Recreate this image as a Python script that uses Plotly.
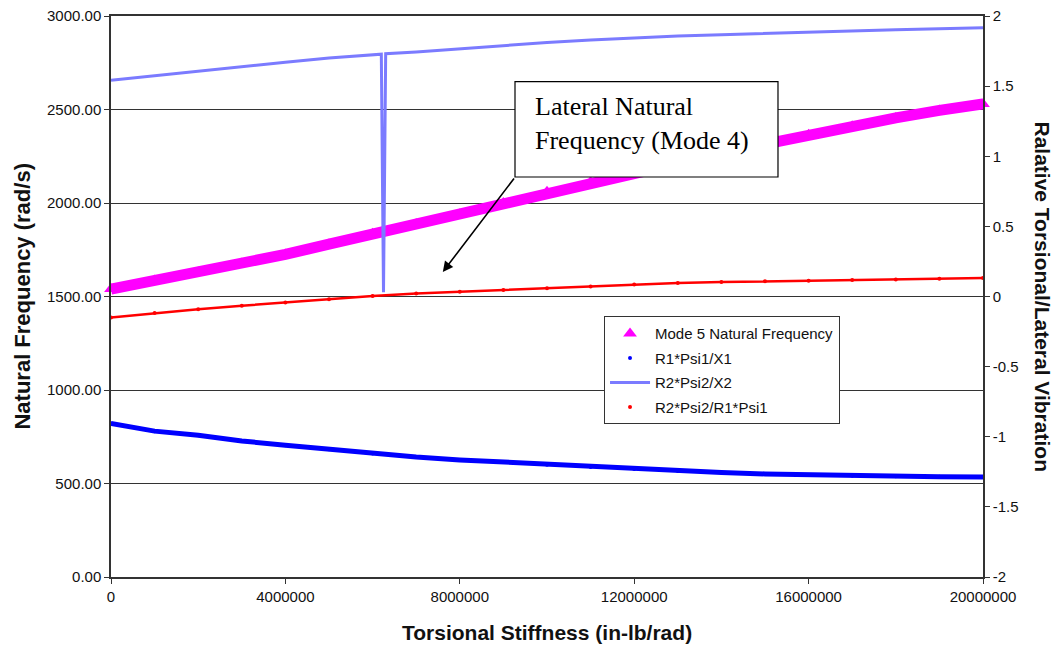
import plotly.graph_objects as go

# ---------------- data ----------------
stiffness = [0, 1000000, 2000000, 3000000, 4000000, 5000000, 6000000, 7000000,
             8000000, 9000000, 10000000, 11000000, 12000000, 13000000, 14000000,
             15000000, 16000000, 17000000, 18000000, 19000000, 20000000]

mode5_freq = [1540, 1585, 1630, 1677, 1725, 1780, 1835, 1888, 1940, 2000, 2060,
              2112, 2165, 2215, 2265, 2315, 2365, 2410, 2455, 2495, 2530]

r1psi1_x1 = [-0.905, -0.96, -0.99, -1.03, -1.06, -1.09, -1.12, -1.145, -1.165,
             -1.18, -1.20, -1.215, -1.23, -1.245, -1.255, -1.265, -1.272, -1.278,
             -1.282, -1.285, -1.287]

r2x2_stiffness = [0, 1000000, 2000000, 3000000, 4000000, 5000000, 6000000,
                  6200000, 6250000, 6300000, 7000000, 8000000, 9000000, 10000000,
                  11000000, 12000000, 13000000, 14000000, 15000000, 16000000,
                  17000000, 18000000, 19000000, 20000000]
r2psi2_x2 = [1.542, 1.575, 1.605, 1.637, 1.670, 1.700, 1.724, 1.728, 0.03, 1.731,
             1.744, 1.767, 1.790, 1.811, 1.828, 1.843, 1.857, 1.866, 1.876, 1.885,
             1.894, 1.902, 1.909, 1.916]

r2psi2_r1psi1 = [-0.150, -0.118, -0.091, -0.066, -0.043, -0.020, 0.004, 0.021,
                 0.034, 0.047, 0.059, 0.072, 0.085, 0.097, 0.103, 0.108, 0.113,
                 0.117, 0.122, 0.127, 0.132]

x_tickvals = [0, 4000000, 8000000, 12000000, 16000000, 20000000]
left_tickvals = [0, 500, 1000, 1500, 2000, 2500, 3000]
right_tickvals = [-2, -1.5, -1, -0.5, 0, 0.5, 1, 1.5, 2]
right_ticktext = ["-2", "-1.5", "-1", "-0.5", "0", "0.5", "1", "1.5", "2"]

# annotation arrow (head / tail) in data coordinates
arrow_head = (7610000, 1631)
arrow_tail = (9270000, 2139)
box_x = (9266000, 15298000)
box_y = (2139, 2649)

# ---------------- figure ----------------
SANS = "Liberation Sans, Arial, sans-serif"
SERIF = "Liberation Serif, Times New Roman, serif"

fig = go.Figure()

fig.add_trace(go.Scatter(x=stiffness, y=mode5_freq, mode="lines",
                         line=dict(color="#FF00FF", width=11),
                         showlegend=False, hoverinfo="skip"))
fig.add_trace(go.Scatter(x=stiffness, y=mode5_freq, mode="markers",
                         marker=dict(symbol="triangle-up", size=12, color="#FF00FF"),
                         cliponaxis=False,
                         name="Mode 5 Natural Frequency", legendgroup="a"))

fig.add_trace(go.Scatter(x=stiffness, y=r1psi1_x1, yaxis="y2", mode="lines",
                         line=dict(color="#0000FF", width=5),
                         showlegend=False, hoverinfo="skip"))
fig.add_trace(go.Scatter(x=stiffness, y=r1psi1_x1, yaxis="y2", mode="markers",
                         marker=dict(size=4, color="#0000FF"),
                         name="R1*Psi1/X1", legendgroup="b"))

fig.add_trace(go.Scatter(x=r2x2_stiffness, y=r2psi2_x2, yaxis="y2", mode="lines",
                         line=dict(color="#7B7BFF", width=3),
                         name="R2*Psi2/X2", legendgroup="c"))

fig.add_trace(go.Scatter(x=stiffness, y=r2psi2_r1psi1, yaxis="y2", mode="lines",
                         line=dict(color="#FF0000", width=2.5),
                         showlegend=False, hoverinfo="skip"))
fig.add_trace(go.Scatter(x=stiffness, y=r2psi2_r1psi1, yaxis="y2", mode="markers",
                         marker=dict(size=4, color="#FF0000"),
                         name="R2*Psi2/R1*Psi1", legendgroup="d"))

axis_line = "#333333"

fig.update_layout(
    width=1060, height=649,
    margin=dict(l=111, r=77, t=16, b=72),
    paper_bgcolor="white", plot_bgcolor="white",
    font=dict(family=SANS, color="#111111"),
    xaxis=dict(range=[0, 20000000], tickvals=x_tickvals, tickformat="d",
               ticks="outside", ticklen=5, tickcolor=axis_line, automargin=False,
               showline=True, linecolor=axis_line, linewidth=1.5, mirror=True,
               showgrid=False, zeroline=False,
               tickfont=dict(size=15, family=SANS, color="#111111")),
    yaxis=dict(range=[0, 3000], tickvals=left_tickvals, tickformat=".2f",
               ticks="outside", ticklen=5, tickcolor=axis_line, automargin=False,
               showline=True, linecolor=axis_line, linewidth=1.5,
               showgrid=True, gridcolor="#333333", gridwidth=1, zeroline=False,
               tickfont=dict(size=15, family=SANS, color="#111111")),
    yaxis2=dict(range=[-2, 2], tickvals=right_tickvals, ticktext=right_ticktext,
                overlaying="y", side="right", automargin=False,
                ticks="outside", ticklen=5, tickcolor=axis_line,
                showline=True, linecolor=axis_line, linewidth=1.5,
                showgrid=False, zeroline=False,
                tickfont=dict(size=15, family=SANS, color="#111111")),
    legend=dict(x=0.5654, y=0.465, xanchor="left", yanchor="top",
                bgcolor="white", bordercolor="#333333", borderwidth=1,
                font=dict(size=15, family=SANS, color="#111111"),
                tracegroupgap=2, itemwidth=40),
    showlegend=True,
)

# annotation box
fig.add_shape(type="rect", xref="x", yref="y",
              x0=box_x[0], x1=box_x[1], y0=box_y[0], y1=box_y[1],
              line=dict(color="black", width=1.2), fillcolor="white", layer="above")
fig.add_annotation(xref="paper", yref="paper", x=0.484, y=0.809,
                   xanchor="left", yanchor="middle", align="left",
                   text="Lateral Natural<br>Frequency (Mode 4)", showarrow=False,
                   font=dict(family=SERIF, size=26, color="black"))
# arrow
fig.add_annotation(xref="x", yref="y", x=arrow_head[0], y=arrow_head[1],
                   axref="x", ayref="y", ax=arrow_tail[0], ay=arrow_tail[1],
                   text="", showarrow=True, arrowhead=2, arrowsize=1.3,
                   arrowwidth=1.6, arrowcolor="black")

# axis titles
fig.add_annotation(xref="paper", yref="paper", x=0.5, y=-0.0998,
                   xanchor="center", yanchor="middle", showarrow=False,
                   text="Torsional Stiffness (in-lb/rad)",
                   font=dict(family=SANS, size=21, color="#111111", weight="bold"))
fig.add_annotation(xref="paper", yref="paper", x=-0.102, y=0.5,
                   xanchor="center", yanchor="middle", showarrow=False,
                   textangle=-90, text="Natural Frequency (rad/s)",
                   font=dict(family=SANS, size=22, color="#111111", weight="bold"))
fig.add_annotation(xref="paper", yref="paper", x=1.0677, y=0.5,
                   xanchor="center", yanchor="middle", showarrow=False,
                   textangle=90, text="Ralative Torsional/Lateral Vibration",
                   font=dict(family=SANS, size=21, color="#111111", weight="bold"))

fig.write_html("out.html", config={"displayModeBar": False},
               post_script="document.body.style.margin='0';document.body.style.overflow='hidden';")
